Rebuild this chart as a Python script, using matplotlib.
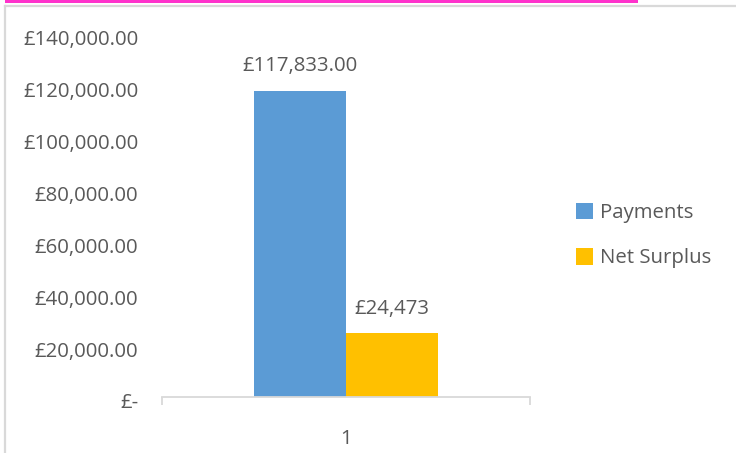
import matplotlib
matplotlib.use("Agg")
import matplotlib.pyplot as plt
from matplotlib.patches import Rectangle
from matplotlib.transforms import ScaledTranslation

categories = ["1"]
series_names = ["Payments", "Net Surplus"]
payments = [117833.00]
net_surplus = [24473]
data_labels = ["£117,833.00", "£24,473"]
y_ticks = [0, 20000, 40000, 60000, 80000, 100000, 120000, 140000]
y_tick_labels = ["£-", "£20,000.00", "£40,000.00", "£60,000.00", "£80,000.00",
                 "£100,000.00", "£120,000.00", "£140,000.00"]

plt.rcParams['font.family'] = ['Open Sans', 'DejaVu Sans']
TXT = '#595959'
FS = 14.7

W, H = 736, 453
fig = plt.figure(figsize=(W / 100, H / 100), dpi=100)
ax = fig.add_axes([162 / W, 1 - 397 / H, 368 / W, 364 / H])

bw = 0.25
colors = ['#5B9BD5', '#FFC000']
xs = list(range(len(categories)))
for i, (vals, name, col) in enumerate(zip([payments, net_surplus], series_names, colors)):
    pos = [x + (i - 0.5) * bw for x in xs]
    bars = ax.bar(pos, vals, width=bw, color=col, label=name, zorder=2)
    for b, v in zip(bars, vals):
        ax.annotate(data_labels[i], (b.get_x() + b.get_width() / 2, v),
                    xytext=(0, 17.5), textcoords='offset points',
                    ha='center', va='center', fontsize=FS, color=TXT)

ax.set_xlim(-0.5, len(categories) - 0.5)
ax.set_ylim(0, 140000)
ax.set_yticks(y_ticks)
ax.set_yticklabels(y_tick_labels)
ax.set_xticks(xs)
ax.set_xticklabels(categories)
ax.set_xticks([-0.5, len(categories) - 0.5], minor=True)
ax.tick_params(axis='y', length=0, pad=17, labelsize=FS, labelcolor=TXT)
ax.tick_params(axis='x', which='major', length=0, pad=23, labelsize=FS, labelcolor=TXT)
ax.tick_params(axis='x', which='minor', length=5.5, width=1.3, color='#d9d9d9', direction='out')
shift = ScaledTranslation(0, -4 / 100, fig.dpi_scale_trans)
for lbl in ax.get_yticklabels():
    lbl.set_transform(lbl.get_transform() + shift)
for s in ['top', 'right', 'left']:
    ax.spines[s].set_visible(False)
ax.spines['bottom'].set_color('#d9d9d9')
ax.spines['bottom'].set_linewidth(1.3)

leg = fig.legend(loc='center left', bbox_to_anchor=(576 / W, 1 - 235.5 / H),
                 frameon=False, fontsize=FS, handlelength=0.85, handleheight=0.85,
                 handletextpad=0.35, labelspacing=1.25, borderpad=0, borderaxespad=0)
for t in leg.get_texts():
    t.set_color(TXT)

# frame and pink header bar
fig.add_artist(plt.Line2D([5 / W, 5 / W], [0, 1 - 5.5 / H], transform=fig.transFigure,
                          color='#d9d9d9', lw=1.6))
fig.add_artist(plt.Line2D([5 / W, 1], [1 - 5.5 / H, 1 - 5.5 / H], transform=fig.transFigure,
                          color='#d9d9d9', lw=1.6))
fig.patches.append(Rectangle((5 / W, 1 - 3.2 / H), 633 / W, 3.2 / H, transform=fig.transFigure,
                             facecolor='#FF33CC', edgecolor='none'))

fig.savefig('out.png', dpi=100)
